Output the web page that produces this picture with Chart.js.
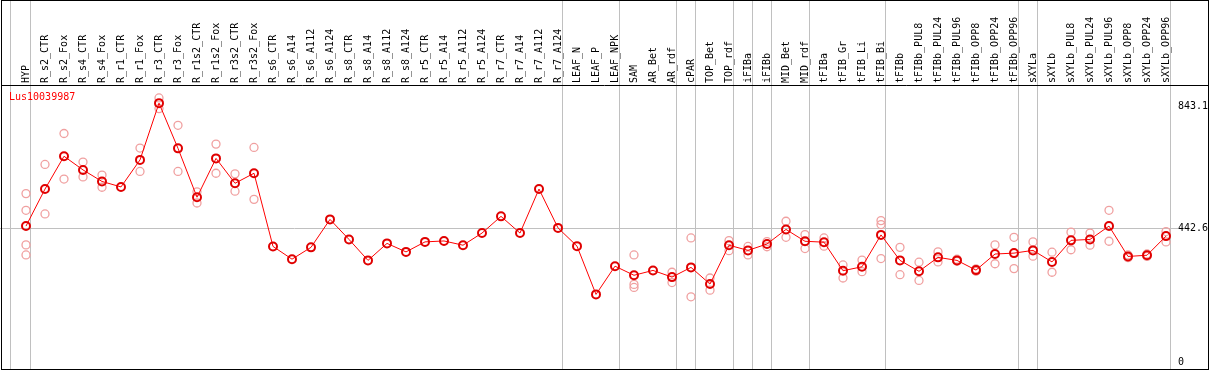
<!DOCTYPE html>
<html>
<head>
<meta charset="utf-8">
<script src="https://cdn.jsdelivr.net/npm/chart.js@4"></script>
<style>
html, body { margin: 0; padding: 0; background: #fff; }
canvas { display: block; }
</style>
</head>
<body>
<canvas id="exprChart" width="1209" height="370"></canvas>
<script>
// Daten
const geneName = 'Lus10039987';

const categories = [
    'HYP', 'R_s2_CTR', 'R_s2_Fox', 'R_s4_CTR', 'R_s4_Fox', 'R_r1_CTR', 'R_r1_Fox', 'R_r3_CTR', 'R_r3_Fox',
    'R_r1s2_CTR', 'R_r1s2_Fox', 'R_r3s2_CTR', 'R_r3s2_Fox', 'R_s6_CTR', 'R_s6_A14', 'R_s6_A112', 'R_s6_A124',
    'R_s8_CTR', 'R_s8_A14', 'R_s8_A112', 'R_s8_A124', 'R_r5_CTR', 'R_r5_A14', 'R_r5_A112', 'R_r5_A124',
    'R_r7_CTR', 'R_r7_A14', 'R_r7_A112', 'R_r7_A124', 'LEAF_N', 'LEAF_P', 'LEAF_NPK', 'SAM', 'AR_Bet', 'AR_rdf',
    'cPAR', 'TOP_Bet', 'TOP_rdf', 'iFIBa', 'iFIBb', 'MID_Bet', 'MID_rdf', 'tFIBa', 'tFIB_Gr', 'tFIB_Li', 'tFIB_Bi',
    'tFIBb', 'tFIBb_PUL8', 'tFIBb_PUL24', 'tFIBb_PUL96', 'tFIBb_OPP8', 'tFIBb_OPP24', 'tFIBb_OPP96',
    'sXYLa', 'sXYLb', 'sXYLb_PUL8', 'sXYLb_PUL24', 'sXYLb_PUL96', 'sXYLb_OPP8', 'sXYLb_OPP24', 'sXYLb_OPP96'
];

// Mittelwerte (rote Linie)
const means = [
    450, 572, 680, 635, 597, 579, 668, 855, 706,
    545, 673, 591, 624, 383, 341, 380, 472,
    406, 337, 393, 365, 398, 401, 387, 427,
    482, 427, 572, 444, 384, 225, 318, 288, 304, 282,
    314, 259, 387, 370, 391, 439, 400, 397, 303, 316, 421,
    337, 301, 347, 337, 305, 358, 361,
    370, 332, 403, 406, 450, 350, 354, 417
];

// Einzelwerte (hellrote Kreise)
const replicates = [
    [557, 502, 388, 355], [653, 490], [755, 605], [661, 612], [618, 578], [], [707, 630], [872, 837], [782, 630],
    [563, 526], [720, 624], [622, 565], [709, 538], [], [], [], [],
    [], [], [], [], [], [], [], [],
    [], [], [], [], [], [], [], [355, 258, 248], [], [298, 264],
    [411, 217], [279, 239], [402, 369], [383, 355], [399, 382], [466, 413], [422, 376], [411, 384], [322, 279], [338, 300], [468, 455, 343],
    [380, 290], [331, 271], [365, 332], [341, 334], [309, 301], [388, 326], [413, 310],
    [398, 351], [364, 298], [430, 372], [427, 387], [502, 400], [355, 346], [358, 350], [432, 398]
];

// Trennlinien zwischen Gruppen (Position in Kategorie-Einheiten)
const separators = [-0.8, 0.25, 28.25, 31.25, 34.25, 35.25, 37.25, 38.25, 39.25, 41.25, 45.25, 52.25, 53.25, 60.25];

const yTicks = [0, 442.6, 843.1];

const monoFont = { family: 'DejaVu Sans Mono', size: 10 };
const xMin = -26 / 19;
const xMax = xMin + 1178 / 19;

// Achsen-Padding entfernen, damit die Zeichenfläche bündig sitzt
function noPadding(axis) {
    axis.paddingLeft = 0;
    axis.paddingRight = 0;
    axis.paddingTop = 0;
    axis.paddingBottom = 0;
}

// Rahmen und Gen-Name
const framePlugin = {
    id: 'frame',
    afterDraw(chart) {
        const ctx = chart.ctx;
        const top = chart.chartArea.top;
        ctx.save();
        ctx.strokeStyle = '#000';
        ctx.lineWidth = 1;
        ctx.strokeRect(1.5, 0.5, chart.width - 2, chart.height - 1);
        ctx.beginPath();
        ctx.moveTo(1, top + 0.5);
        ctx.lineTo(chart.width - 1, top + 0.5);
        ctx.stroke();
        ctx.fillStyle = '#ff0000';
        ctx.font = '10px "DejaVu Sans Mono"';
        ctx.textBaseline = 'middle';
        ctx.fillText(geneName, 9, top + 12);
        ctx.restore();
    }
};

new Chart(document.getElementById('exprChart'), {
    type: 'scatter',
    data: {
        datasets: [{
            label: 'mean',
            data: means.map((v, i) => ({ x: i, y: v })),
            showLine: true,
            borderColor: '#ff0000',
            borderWidth: 1,
            pointRadius: 4,
            pointBorderWidth: 2,
            pointBorderColor: '#e00000',
            pointBackgroundColor: 'rgba(0,0,0,0)'
        }, {
            label: 'replicates',
            data: replicates.flatMap((r, i) => r.map(v => ({ x: i, y: v }))),
            pointRadius: 4,
            borderWidth: 1.3,
            borderColor: '#f0a0a0',
            backgroundColor: 'rgba(0,0,0,0)'
        }]
    },
    options: {
        responsive: false,
        animation: false,
        layout: { padding: 0, autoPadding: false },
        plugins: { legend: { display: false }, tooltip: { enabled: false } },
        scales: {
            x: {
                type: 'linear',
                position: 'top',
                weight: 1,
                min: xMin,
                max: xMax,
                afterBuildTicks: axis => { axis.ticks = categories.map((c, i) => ({ value: i })); },
                afterFit: axis => { axis.height = 85; noPadding(axis); },
                border: { display: false },
                grid: { display: false, drawTicks: false },
                ticks: {
                    autoSkip: false,
                    minRotation: 90,
                    maxRotation: 90,
                    padding: 2,
                    labelOffset: 12, // gleicht den Versatz gedrehter Labels aus
                    color: '#000',
                    font: monoFont,
                    callback: v => categories[Math.round(v)] ?? ''
                }
            },
            x2: {
                type: 'linear',
                position: 'top',
                weight: 0,
                min: xMin,
                max: xMax,
                afterBuildTicks: axis => { axis.ticks = separators.map(v => ({ value: v })); },
                afterFit: axis => { axis.height = 0; noPadding(axis); },
                border: { display: false },
                grid: { color: '#c0c0c0', lineWidth: 1, drawTicks: true, tickLength: 85 },
                ticks: { display: false }
            },
            y: {
                position: 'right',
                min: -24,
                max: 914.7,
                afterBuildTicks: axis => { axis.ticks = yTicks.map(v => ({ value: v })); },
                afterFit: axis => { axis.width = 31; noPadding(axis); },
                border: { display: false },
                grid: {
                    drawTicks: false,
                    color: c => (c.tick && c.tick.value === 442.6) ? '#c0c0c0' : 'rgba(0,0,0,0)'
                },
                ticks: { padding: 0, color: '#000', font: monoFont, callback: v => String(v) }
            }
        }
    },
    plugins: [framePlugin]
});
</script>
</body>
</html>
